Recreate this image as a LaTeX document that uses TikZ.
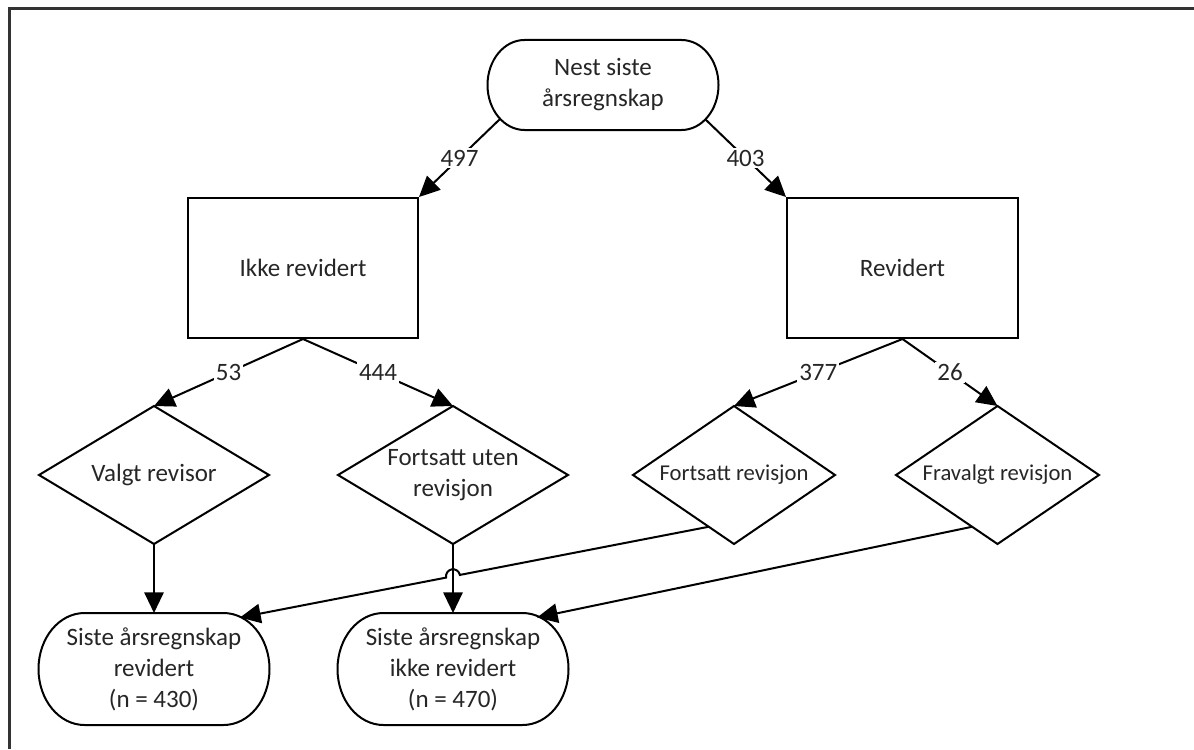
\documentclass[tikz,border=0pt]{standalone}
\usepackage{fontspec}
\setmainfont{Carlito}
\usetikzlibrary{calc,arrows.meta,shapes.geometric}
\newcommand\termline[4]{% node, rx, ry, style
  \draw[#4] ([xshift=#2]#1.north west) -- ([xshift=-#2]#1.north east)
    arc[start angle=90,end angle=-90,x radius=#2,y radius=#3]
    -- ([xshift=#2]#1.south west)
    arc[start angle=270,end angle=90,x radius=#2,y radius=#3] -- cycle;}
\begin{document}
\begin{tikzpicture}[x=0.75pt,y=-0.75pt,
  txt/.style={font=\fontsize{18.75}{23.25}\selectfont, text=black!85, align=center},
  smalltxt/.style={txt, font=\fontsize{17}{23.25}\selectfont},
  line/.style={line width=1.5pt},
  arr/.style={line, -{Triangle[length=15.5pt,width=14.5pt]}},
  box/.style={txt, draw, line width=1.5pt, rectangle, minimum width=172.5pt, minimum height=105pt, inner sep=0pt},
  termnode/.style={txt, inner sep=0pt, outer sep=0pt, minimum width=173.25pt},
  diam/.style={draw, line width=1.5pt, diamond, inner sep=0pt, outer sep=0pt, minimum height=103.5pt},
  lab/.style={txt, fill=white, inner sep=1.5pt}
]
\useasboundingbox (0,0) rectangle (1194,749);
\draw[line width=2.25pt, black!80] (9,749) -- (9,9) -- (1194,9);

% top terminal
\node[termnode, minimum height=67.5pt] (top) at (603,85) {Nest siste\\årsregnskap};
\termline{top}{27.75pt}{33.75pt}{line}

% rectangles
\node[box] (ikke) at (303,268) {Ikke revidert};
\node[box, minimum width=173.25pt] (rev) at (902.5,268) {Revidert};

% diamonds
\node[diam, minimum width=172.5pt] (d1) at (154,475) {};
\node[txt] (d1t) at (d1.center) {Valgt revisor};
\node[diam, minimum width=172.5pt] (d2) at (453,475) {};
\node[txt] (d2t) at (d2.center) {Fortsatt uten\\revisjon};
\node[diam, minimum width=151.5pt] (d3) at (734,475) {};
\node[smalltxt] (d3t) at (d3.center) {Fortsatt revisjon};
\node[diam, minimum width=152.25pt] (d4) at (997.5,475) {};
\node[smalltxt] (d4t) at (d4.center) {Fravalgt revisjon};

% bottom terminals
\node[termnode, minimum height=84pt] (t1) at (154,669) {Siste årsregnskap\\revidert\\(n = 430)};
\termline{t1}{34.5pt}{42pt}{line}
\node[termnode, minimum height=84pt] (t2) at (453,669) {Siste årsregnskap\\ikke revidert\\(n = 470)};
\termline{t2}{34.5pt}{42pt}{line}

% helper coordinates
\coordinate (topL) at ($(top.center)+(-103,34)$);
\coordinate (topR) at ($(top.center)+(102,34)$);
\coordinate (d3p) at ($(d3.south)!0.25!(d3.west)$);
\coordinate (d4p) at ($(d4.south)!0.25!(d4.west)$);
\coordinate (t1e) at ($(t1.center)+(86,-51.5)$);
\coordinate (t2e) at ($(t2.center)+(84,-51.5)$);

% connectors
\draw[arr] (topL) -- node[lab]{497} (ikke.north east);
\draw[arr] (topR) -- node[lab]{403} (rev.north west);
\draw[arr] (ikke.south) -- node[lab]{53} (d1.north);
\draw[arr] (ikke.south) -- node[lab]{444} (d2.north);
\draw[arr] (rev.south) -- node[lab]{377} (d3.north);
\draw[arr] (rev.south) -- node[lab]{26} (d4.north);
\draw[arr] (d1.south) -- (t1.north);
\draw[arr] (d2.south) -- (t2.north);
\coordinate (cx) at (intersection of d3p--t1e and d2.south--t2.north);
\draw[arr] (d3p) -- ($(cx)!5.25pt!(d3p)$) arc[start angle=11, end angle=191, radius=5.25pt] -- (t1e);
\draw[arr] (d4p) -- (t2e);
\end{tikzpicture}
\end{document}
